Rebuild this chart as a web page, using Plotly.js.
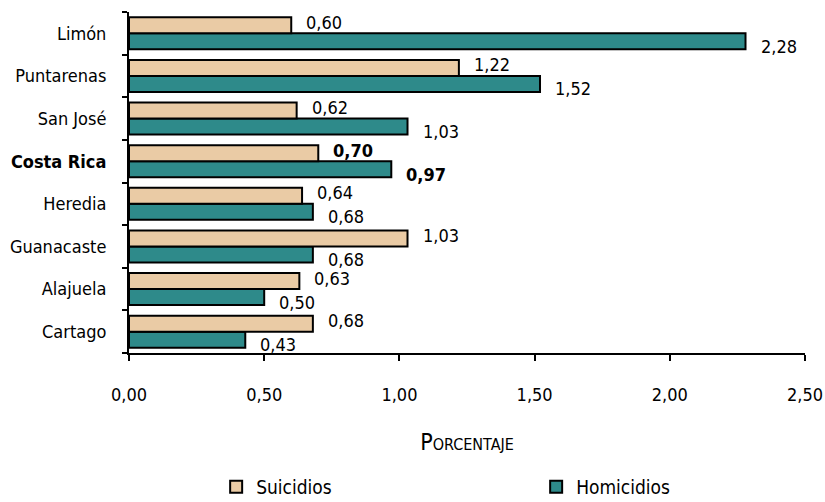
<!DOCTYPE html>
<html>
<head>
<meta charset="utf-8">
<script src="https://cdn.plot.ly/plotly-3.0.1.min.js"></script>
<style>html,body{margin:0;padding:0;background:#fff;}#chart{width:825px;height:502px;}</style>
</head>
<body>
<div id="chart"></div>
<script>
// Data (bottom to top)
const categories = ["Cartago", "Alajuela", "Guanacaste", "Heredia", "Costa Rica", "San José", "Puntarenas", "Limón"];
const suicidios = [0.68, 0.63, 1.03, 0.64, 0.70, 0.62, 1.22, 0.60];
const homicidios = [0.43, 0.50, 0.68, 0.68, 0.97, 1.03, 1.52, 2.28];
const xTicks = [0, 0.5, 1, 1.5, 2, 2.5];

const fmt = v => v.toFixed(2).replace('.', ',');
const boldCat = "Costa Rica";
const lbl = (v, i) => categories[i] === boldCat ? '<b>' + fmt(v) + '</b>' : fmt(v);
const tickText = categories.map(c => c === boldCat ? '<b>' + c + '</b>' : c);

const FONT = '"DejaVu Sans Condensed", "DejaVu Sans", sans-serif';
const BARGAP = 0.25;
const half = (1 - BARGAP) / 4; // centre offset of each bar within its group

const traces = [
  {
    type: 'bar', orientation: 'h', name: 'Homicidios',
    y: categories, x: homicidios,
    marker: {color: '#2E8A8A', line: {color: '#000', width: 2}},
    legendrank: 2, hoverinfo: 'x+name'
  },
  {
    type: 'bar', orientation: 'h', name: 'Suicidios',
    y: categories, x: suicidios,
    marker: {color: '#EACBA5', line: {color: '#000', width: 2}},
    legendrank: 1, hoverinfo: 'x+name'
  }
];

const annotations = [];
categories.forEach((c, i) => {
  annotations.push({
    x: suicidios[i], y: i + half, xref: 'x', yref: 'y',
    text: lbl(suicidios[i], i), showarrow: false,
    xanchor: 'left', yanchor: 'middle', xshift: 13, yshift: 3,
    font: {family: FONT, size: 18, color: '#000'}
  });
  annotations.push({
    x: homicidios[i], y: i - half, xref: 'x', yref: 'y',
    text: lbl(homicidios[i], i), showarrow: false,
    xanchor: 'left', yanchor: 'middle', xshift: 13, yshift: -5,
    font: {family: FONT, size: 18, color: '#000'}
  });
});

const layout = {
  width: 825, height: 502,
  margin: {l: 129, r: 20, t: 12, b: 149},
  paper_bgcolor: '#fff', plot_bgcolor: '#fff',
  separators: ',.',
  font: {family: FONT, size: 18, color: '#000'},
  barmode: 'group', bargap: BARGAP, bargroupgap: 0,
  showlegend: true,
  annotations: annotations,
  legend: {
    orientation: 'h', xref: 'container', yref: 'container',
    x: 0.262, xanchor: 'left', y: 0.03, yanchor: 'middle',
    font: {family: FONT, size: 19}, itemwidth: 30, tracegroupgap: 0,
    entrywidth: 275, bgcolor: 'rgba(0,0,0,0)'
  },
  xaxis: {
    range: [0, 2.5], tickvals: xTicks, tickformat: '.2f',
    showgrid: false, zeroline: false,
    showline: true, linecolor: '#000', linewidth: 2,
    ticks: 'outside', ticklen: 6, tickwidth: 2, tickcolor: '#000',
    tickfont: {family: FONT, size: 18}, ticklabelstandoff: 18,
    title: {text: 'Porcentaje', font: {family: FONT, size: 23, variant: 'small-caps'}, standoff: 30}
  },
  yaxis: {
    type: 'category', tickvals: categories, ticktext: tickText,
    range: [-0.5, categories.length - 0.5],
    showgrid: false, zeroline: false,
    showline: true, linecolor: '#000', linewidth: 2,
    ticks: 'outside', tickson: 'boundaries', ticklen: 5, tickwidth: 2, tickcolor: '#000',
    tickfont: {family: FONT, size: 18}, ticklabelstandoff: 17
  }
};

Plotly.newPlot('chart', traces, layout, {displayModeBar: false, staticPlot: true});
</script>
</body>
</html>
